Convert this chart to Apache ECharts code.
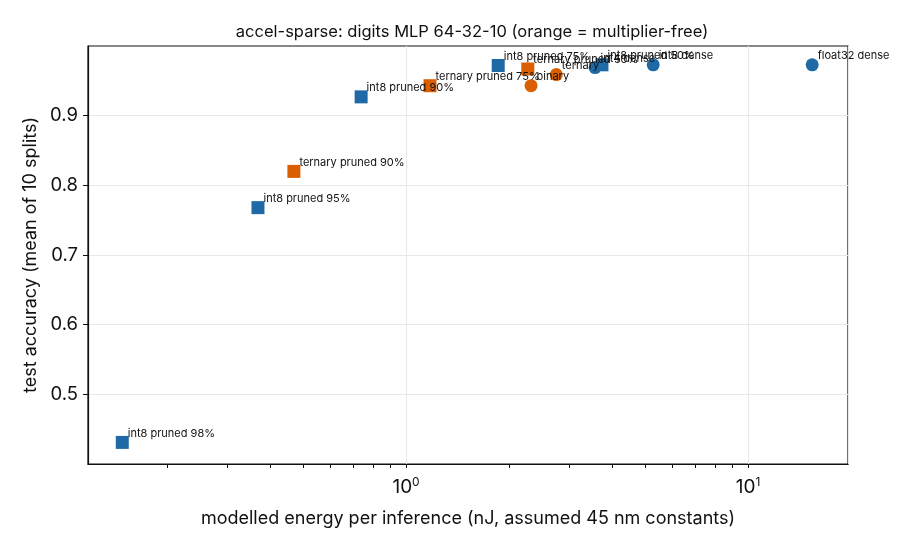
<!DOCTYPE html>
<html>
<head>
<meta charset="utf-8">
<script src="https://cdn.jsdelivr.net/npm/echarts@6/dist/echarts.min.js"></script>
<style>
html,body{margin:0;padding:0;background:#fff;}
#main{width:910px;height:546px;}
</style>
</head>
<body>
<div id="main"></div>
<script>
// points
var names    = ["int8 pruned 98%","int8 pruned 95%","int8 pruned 90%","int8 pruned 75%","int8 pruned 50%","int4 dense","int8 dense","float32 dense",
                "ternary pruned 90%","ternary pruned 75%","ternary pruned 50%","binary","ternary"];
var energy   = [0.148, 0.369, 0.739, 1.86, 3.74, 3.57, 5.28, 15.4,
                0.470, 1.175, 2.27, 2.32, 2.75];
var accuracy = [0.431, 0.768, 0.927, 0.972, 0.973, 0.969, 0.973, 0.973,
                0.820, 0.943, 0.967, 0.943, 0.959];
var multFree = [false,false,false,false,false,false,false,false,
                true,true,true,true,true];
var pruned   = [true,true,true,true,true,false,false,false,
                true,true,true,false,false];

var xTicks = [0.2,0.3,0.4,0.5,0.6,0.7,0.8,0.9,1,2,3,4,5,6,7,8,9,10];
var xLabelVals = [1, 10];
var xLabels = {1:"{b|10}{s|0}", 10:"{b|10}{s|1}"};
var yTicks = [0.5, 0.6, 0.7, 0.8, 0.9];
var xMin = 0.1175, xMax = 19.6;

var BLUE = "#1f6aa6", ORANGE = "#d95f02";

function makeData(mf){
    var out = [];
    for (var i=0;i<names.length;i++){
        if (multFree[i]!==mf) continue;
        out.push({
            name: names[i],
            value: [energy[i], accuracy[i]],
            symbol: pruned[i] ? "rect" : "circle"
        });
    }
    return out;
}

var labelOpt = {
    show: true,
    position: "right",
    distance: 0,
    offset: [-1, -9],
    formatter: "{b}",
    fontSize: 11,
    fontFamily: "Inter",
    color: "#111"
};

var myChart = echarts.init(document.getElementById("main"));
var option = {
    animation: false,
    textStyle: {fontFamily: "Inter"},
    title: {
        text: "accel-sparse: digits MLP 64-32-10 (orange = multiplier-free)",
        left: 467, top: 19, textAlign: "center",
        textStyle: {fontSize: 16.5, fontWeight: "normal", color: "#111", fontFamily: "Inter"}
    },
    grid: {left: 88, right: 62, top: 46, bottom: 82, show: true, borderColor: "#111", borderWidth: 1.2, backgroundColor: "transparent"},
    xAxis: [{
        type: "log",
        min: xMin, max: xMax,
        name: "modelled energy per inference (nJ, assumed 45 nm constants)",
        nameLocation: "middle", nameGap: 46,
        nameTextStyle: {fontSize: 18, color: "#111"},
        axisLine: {show: true, lineStyle: {color: "#111", width: 1.2}},
        axisTick: {show: true, length: 4, customValues: xTicks, lineStyle: {color: "#111"}},
        axisLabel: {
            customValues: xLabelVals,
            margin: 12,
            formatter: function(v){ return xLabels[Math.round(v)] || ""; },
            rich: {
                b: {fontSize: 19, color: "#111", fontFamily: "Inter", lineHeight: 22},
                s: {fontSize: 12, color: "#111", fontFamily: "Inter", verticalAlign: "top", lineHeight: 22, padding: [0,0,8,0]}
            }
        },
        splitLine: {show: false}
    }, {
        // grid lines at the decades only
        type: "log",
        min: xMin, max: xMax,
        position: "bottom",
        axisLine: {show: false},
        axisTick: {show: false},
        axisLabel: {show: false},
        splitLine: {show: true, lineStyle: {color: "#e8e8e8", width: 1}}
    }],
    yAxis: {
        type: "value",
        min: 0.4, max: 1.0, interval: 0.1,
        name: "test accuracy (mean of 10 splits)",
        nameLocation: "middle", nameGap: 47,
        nameTextStyle: {fontSize: 18, color: "#111"},
        axisLine: {show: true, lineStyle: {color: "#111", width: 1.2}},
        axisTick: {show: true, length: 5, customValues: yTicks, lineStyle: {color: "#111"}},
        axisLabel: {
            fontSize: 18.5, color: "#111", margin: 10,
            formatter: function(v){ return (v < 0.45 || v > 0.95) ? "" : v.toFixed(1); }
        },
        splitLine: {show: true, lineStyle: {color: "#e8e8e8", width: 1}}
    },
    series: [
        {type: "scatter", name: "int", symbolSize: 13, itemStyle: {color: BLUE, opacity: 1}, label: labelOpt, data: makeData(false)},
        {type: "scatter", name: "multiplier-free", symbolSize: 13, itemStyle: {color: ORANGE, opacity: 1}, label: labelOpt, data: makeData(true)}
    ]
};
myChart.setOption(option);
</script>
</body>
</html>
